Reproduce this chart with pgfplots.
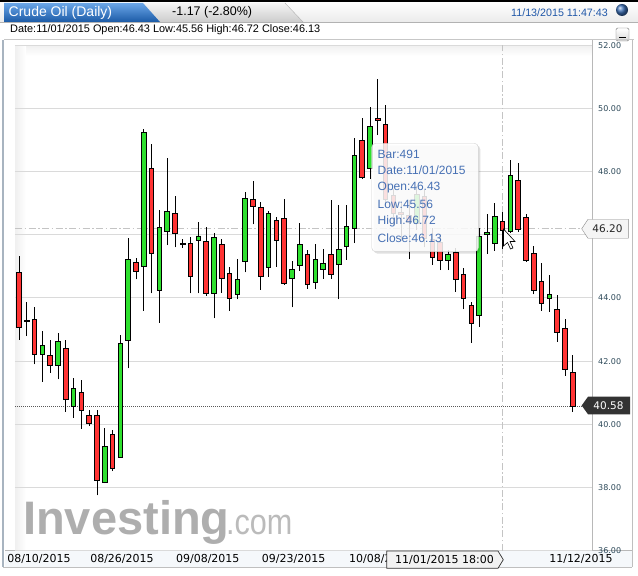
\documentclass[border=0pt]{standalone}
\usepackage{pgfplots}
\pgfplotsset{compat=1.18}
\usepackage{pgfplotstable}
\usepackage{fontspec}
\setmainfont{Liberation Sans}
\newfontfamily\dejavu{DejaVu Sans}
\definecolor{cgreen}{HTML}{2EE02E}
\definecolor{cred}{HTML}{FF3333}
\definecolor{gridc}{HTML}{DADADA}
\definecolor{tickc}{HTML}{2E4A5A}
\definecolor{tipc}{HTML}{4670B4}
\definecolor{tabtop}{HTML}{6AA6E8}
\definecolor{tabbot}{HTML}{1B5AA6}
\definecolor{wm}{HTML}{AEAEAE}
\definecolor{wm2}{HTML}{BBBBBB}
\definecolor{tsc}{HTML}{1F57A8}
\definecolor{framec}{HTML}{A8B4C0}
\definecolor{labelbg}{HTML}{F5F8FB}
\definecolor{ballc}{HTML}{3C6FB5}
\definecolor{crossc}{HTML}{C4C4C4}

\pgfplotstableread{
x o h l c
1 44.81 45.33 42.68 43.07
2 43.30 43.86 42.79 43.27
3 43.32 43.70 41.90 42.21
4 42.21 42.95 41.34 42.49
5 42.18 42.68 41.63 41.86
6 41.86 42.88 41.42 42.62
7 42.40 42.66 40.39 40.78
8 40.57 41.47 40.21 41.13
9 41.00 41.40 39.86 40.44
10 40.27 40.44 39.96 40.02
11 40.27 40.44 37.75 38.22
12 38.16 39.87 38.14 39.29
13 39.67 39.83 38.52 38.59
14 38.94 42.84 38.94 42.56
15 42.65 45.90 41.77 45.22
16 45.13 45.26 44.59 44.84
17 45.01 49.34 43.59 49.22
18 48.11 48.88 44.14 45.41
19 44.24 46.77 43.21 46.24
20 46.11 48.42 45.67 46.74
21 46.68 47.23 45.60 46.05
22 45.71 45.87 45.59 45.70
23 45.73 45.92 44.14 44.69
24 45.83 46.40 44.14 45.96
25 45.79 46.23 44.07 44.14
26 44.14 46.04 43.35 45.92
27 45.69 45.85 44.17 44.62
28 44.78 44.97 43.59 43.99
29 44.11 45.23 43.95 44.59
30 45.16 47.34 44.81 47.15
31 47.12 47.70 46.33 46.89
32 46.87 47.02 44.25 44.67
33 44.97 46.76 44.67 46.68
34 46.44 46.57 44.99 45.82
35 46.51 47.14 44.41 44.46
36 44.62 45.16 43.70 44.90
37 45.03 46.36 44.86 45.69
38 45.37 45.52 44.29 44.44
39 44.50 45.69 44.28 45.22
40 44.90 45.54 44.61 45.09
41 45.38 47.10 44.60 44.75
42 45.07 46.94 43.95 45.54
43 45.64 46.93 45.20 46.26
44 46.20 49.06 45.73 48.51
45 48.98 49.70 47.76 47.81
46 48.10 50.05 47.77 49.42
47 49.68 50.92 49.15 49.61
48 49.49 50.10 46.95 47.10
49 47.25 47.45 46.30 46.66
50 46.70 47.00 45.80 46.64
51 46.60 47.10 45.22 46.38
52 46.35 47.55 46.15 47.26
53 47.20 47.40 45.60 45.89
54 45.85 46.20 45.05 45.29
55 45.75 46.00 44.88 45.20
56 45.20 45.52 44.88 45.38
57 45.43 45.57 44.20 44.58
58 44.74 44.94 43.64 43.98
59 43.75 43.88 42.58 43.20
60 43.46 46.20 43.09 45.94
61 46.02 46.66 45.39 46.06
62 45.73 47.01 45.49 46.59
63 46.43 46.72 45.56 46.13
64 46.10 48.36 46.05 47.88
65 47.73 48.26 46.09 46.18
66 46.55 46.64 45.14 45.20
67 45.41 45.64 44.11 44.25
68 44.53 45.12 43.59 43.84
69 43.97 44.74 43.56 44.11
70 43.62 44.09 42.61 42.91
71 43.04 43.32 41.53 41.72
72 41.64 42.19 40.40 40.58
}\candles

\pgfplotsset{
  candleaxis/.style={
    at={(15pt,530.9pt)}, anchor=north west, scale only axis,
    width=577pt, height=505.6pt,
    xmin=0.487, xmax=74.46, ymin=36, ymax=52,
  }
}

\begin{document}
\begin{tikzpicture}[x=1pt,y=1pt]
\path[use as bounding box, fill=white] (0,0) rectangle (638,576);
% ---------- header ----------
\shade[top color=white, bottom color=black!8] (0,554) rectangle (638,574);
\fill[black] (0,574) rectangle (638,576);
\shade[top color=black!4, bottom color=black!20] (143,573) -- (285,573) -- (303,554) -- (160,554) -- cycle;
\draw[black!30] (285,573) -- (303,554);
\shade[top color=tabtop, bottom color=tabbot] (4,573) -- (143,573) -- (160,554) -- (4,554) -- cycle;
\draw[black!30] (0,554) -- (638,554);
\node[anchor=west, inner sep=0, text=white, font=\fontsize{14}{14}\selectfont] at (8.5,563.5) {Crude Oil (Daily)};
\node[anchor=west, inner sep=0, text=black, font=\fontsize{12.5}{12.5}\selectfont] at (172,563.5) {-1.17 (-2.80\%)};
\node[anchor=west, inner sep=0, text=tsc, font=\fontsize{10.7}{10.7}\selectfont] at (511,563.5) {11/13/2015 11:47:43};
\shade[ball color=ballc] (622,566) circle (6);
\node[anchor=west, inner sep=0, text=black, font=\fontsize{10.9}{10.9}\selectfont] at (10,546) {Date:11/01/2015 Open:46.43 Low:45.56 High:46.72 Close:46.13};
\shade[top color=white, bottom color=black!15, rounded corners=1.5pt] (616,535) rectangle (629,548);
\draw[black!55, rounded corners=1.5pt] (616,535) rectangle (629,548);
\draw[black, line width=1.6pt] (619.3,538.6) -- (625.7,538.6);
\draw[black!22] (4,537) -- (634,537);
% ---------- panel ----------
\fill[labelbg] (5,9) rectangle (632,25.3);
\shade[top color=black!6, bottom color=white] (15,530.9) rectangle (592,520);
\shade[left color=black!6, right color=white] (15,25.3) rectangle (26,530.9);
\draw[framec] (1.7,536) -- (1.7,9);
\draw[framec] (3.3,536) -- (3.3,9);
\draw[black!25] (3.3,9) -- (632,9);
\draw[black!25] (632,536) -- (632,9);
\draw[black!28] (5,25.3) -- (632,25.3);
\draw[black!28] (592,25.3) -- (592,536);
% watermark
\node[anchor=base west, inner sep=0, text=wm, font=\fontsize{47}{47}\selectfont\bfseries] at (23,41) {Investing};
\node[anchor=base west, inner sep=0, text=wm2, font=\fontsize{36}{36}\selectfont, xscale=0.85] at (226,41) {.com};
% ---------- axis 1 : grid, labels, wicks ----------
\begin{axis}[candleaxis,
  axis line style={draw=none}, tick style={draw=none},
  major tick length=0pt,
  ytick={36,38,40,42,44,46,48,50,52},
  yticklabels={36.00,38.00,40.00,42.00,44.00,46.00,48.00,50.00,52.00},
  yticklabel pos=right,
  yticklabel style={font=\dejavu\fontsize{8}{8}\selectfont, text=tickc, anchor=west, xshift=6pt, inner sep=0pt},
  xtick={3.56,14.2,25.2,36.2,47.4,73.05},
  xticklabels={08/10/2015,08/26/2015,09/08/2015,09/23/2015,10/08/2015,11/12/2015},
  xticklabel style={font=\dejavu\fontsize{11}{11}\selectfont, text=black, anchor=base, yshift=-12.3pt, inner sep=0pt},
  ymajorgrids, grid style={color=gridc, line width=0.8pt},
]
\addplot[crossc, line width=0.8pt, dash pattern=on 7pt off 2.5pt on 1.5pt off 2.5pt] coordinates {(0.487,46.2) (73.31,46.2)};
\addplot[crossc, line width=0.8pt, dash pattern=on 7pt off 2.5pt on 1.5pt off 2.5pt] coordinates {(63,36) (63,52)};
\addplot[black!65, line width=0.7pt, dash pattern=on 1pt off 1pt] coordinates {(0.487,40.58) (73.31,40.58)};
\addplot[draw=none, mark=none, error bars/.cd, y dir=plus, y explicit, error mark=none,
  error bar style={draw=black, solid, line width=1pt}]
  table[x=x, y=l, y error expr=\thisrow{h}-\thisrow{l}] {\candles};
\end{axis}
% ---------- axis 2 : bodies ----------
\begin{axis}[candleaxis, hide axis, ybar stacked, bar width=4.6pt]
\addplot[draw=none, fill=none] table[x=x, y expr={min(\thisrow{o},\thisrow{c})}] {\candles};
\addplot[draw=black, line width=0.9pt, fill=cgreen] table[x=x, y expr={max(\thisrow{c}-\thisrow{o},0)}] {\candles};
\addplot[draw=black, line width=0.9pt, fill=cred] table[x=x, y expr={max(\thisrow{o}-\thisrow{c},0)}] {\candles};
\end{axis}
% ---------- tooltip ----------
\fill[black, opacity=0.12, rounded corners=4pt] (373.7,322.3) rectangle (480.3,430.7);
\fill[white, opacity=0.85, rounded corners=4pt] (371.7,324.3) rectangle (478.3,432.7);
\draw[black!18, rounded corners=4pt] (371.7,324.3) rectangle (478.3,432.7);
\begin{scope}[every node/.style={anchor=west, inner sep=0, text=tipc, font=\fontsize{12}{12}\selectfont}]
\node at (377.5,422) {Bar:491};
\node at (377.5,405.5) {Date:11/01/2015};
\node at (377.5,388.5) {Open:46.43};
\node at (377.5,372) {Low:45.56};
\node at (377.5,354.5) {High:46.72};
\node at (377.5,338) {Close:46.13};
\end{scope}
% ---------- price boxes ----------
\filldraw[fill=black!4, draw=black!45] (581.7,347.2) -- (588,356.7) -- (628.3,356.7) -- (628.3,337.7) -- (588,337.7) -- cycle;
\node[inner sep=0, text=black!85, font=\dejavu\fontsize{10.5}{10.5}\selectfont] at (607.5,347.2) {46.20};
\fill[black!80] (581.7,170.5) -- (588,179.3) -- (630,179.3) -- (630,161.7) -- (588,161.7) -- cycle;
\node[inner sep=0, text=white, font=\dejavu\fontsize{10.5}{10.5}\selectfont] at (608.5,170.5) {40.58};
\filldraw[fill=black!5, draw=black!80, line width=0.7pt] (386.7,25) -- (498,25) -- (503.3,16.3) -- (498,7.7) -- (386.7,7.7) -- cycle;
\node[inner sep=0, text=black, font=\dejavu\fontsize{11}{11}\selectfont] at (444.5,16.3) {11/01/2015 18:00};
% ---------- cursor ----------
\filldraw[fill=white, draw=black, line width=0.6pt] (503.5,347) -- (503.5,330) -- (507.5,333.5) -- (510.5,327) -- (513,328) -- (510,334.5) -- (515,334.5) -- cycle;
\end{tikzpicture}
\end{document}
